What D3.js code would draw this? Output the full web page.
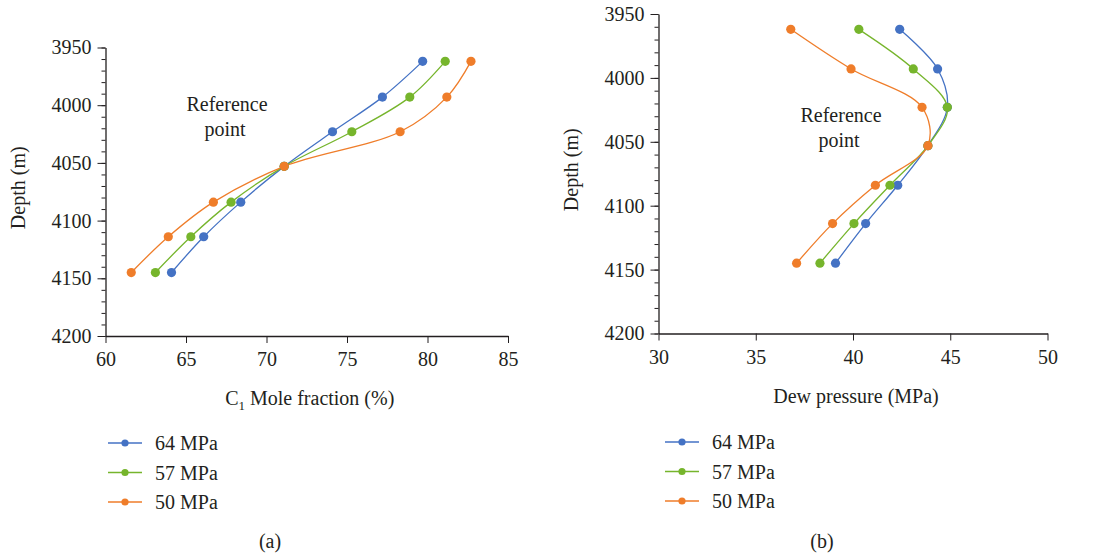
<!DOCTYPE html>
<html lang="en">
<head>
    <meta charset="UTF-8">
    <title>Depth profiles</title>
    <script src="https://d3js.org/d3.v7.min.js"></script>
    <style>
        body { margin: 0; background: #fff; }
        svg text { font-family: "Liberation Serif", "Times New Roman", serif; fill: #231f20; }
    </style>
</head>
<body>
    <svg id="chart" width="1093" height="559"></svg>

    <script>
        // depth of each sample (m)
        const depths = [3962, 3993, 4023, 4053, 4084, 4114, 4145];

        // (a) C1 mole fraction (%)
        const c1_64 = [79.7, 77.2, 74.1, 71.1, 68.4, 66.1, 64.1];
        const c1_57 = [81.1, 78.9, 75.3, 71.1, 67.8, 65.3, 63.1];
        const c1_50 = [82.7, 81.2, 78.3, 71.1, 66.7, 63.9, 61.6];

        // (b) dew pressure (MPa)
        const dew_64 = [42.4, 44.35, 44.85, 43.85, 42.3, 40.65, 39.1];
        const dew_57 = [40.3, 43.1, 44.85, 43.85, 41.9, 40.05, 38.3];
        const dew_50 = [36.8, 39.9, 43.55, 43.85, 41.15, 38.95, 37.1];

        const seriesNames = ["64 MPa", "57 MPa", "50 MPa"];
        const colors = ["#4472c4", "#76b52c", "#ef7d2a"];
        const depthTicks = [3950, 4000, 4050, 4100, 4150, 4200];

        const FONT = '"Liberation Serif", "Times New Roman", serif';
        const svg = d3.select('#chart');

        function styleAxis(a) {
            a.attr('font-family', FONT).attr('font-size', 20);
            a.select('.domain').attr('stroke', '#231f20').attr('stroke-width', 1.3);
            a.selectAll('line').attr('stroke', '#231f20');
            a.selectAll('text').attr('fill', '#231f20');
        }

        function drawPanel(opt) {
            const x = d3.scaleLinear().domain(opt.xDomain).range([opt.left, opt.right]);
            const y = d3.scaleLinear().domain([3950, 4200]).range([opt.top, opt.bottom]);
            const g = svg.append('g').attr('font-family', FONT);

            // minor depth ticks
            g.append('g')
                .attr('transform', `translate(${opt.left},0)`)
                .call(d3.axisLeft(y).tickValues(d3.range(3950, 4201, 10)).tickSize(4).tickFormat(''))
                .call(a => a.select('.domain').remove())
                .call(a => a.selectAll('line').attr('stroke', '#231f20'));

            // depth axis
            g.append('g')
                .attr('transform', `translate(${opt.left},0)`)
                .call(d3.axisLeft(y).tickValues(depthTicks).tickFormat(d3.format('d'))
                    .tickSize(8).tickSizeOuter(0).tickPadding(6))
                .call(styleAxis);

            // x axis
            g.append('g')
                .attr('transform', `translate(0,${opt.bottom})`)
                .call(d3.axisBottom(x).tickValues(opt.xTicks).tickFormat(d3.format('d'))
                    .tickSize(7).tickSizeOuter(0).tickPadding(9))
                .call(styleAxis);

            // axis titles
            const xt = g.append('text')
                .attr('x', (opt.left + opt.right) / 2 + 3)
                .attr('y', opt.bottom + 69)
                .attr('text-anchor', 'middle')
                .attr('font-size', 20);
            if (opt.sub) {
                xt.append('tspan').text('C');
                xt.append('tspan').attr('font-size', 13).attr('dy', 5).text('1');
                xt.append('tspan').attr('dy', -5).text(' Mole fraction (%)');
            } else {
                xt.text(opt.xTitle);
            }

            g.append('text')
                .attr('transform', `translate(${opt.left - 88},${(opt.top + opt.bottom) / 2 - 4}) rotate(-90)`)
                .attr('text-anchor', 'middle')
                .attr('dy', '0.35em')
                .attr('font-size', 20)
                .text('Depth (m)');

            // reference point label
            g.append('text').attr('x', opt.refX).attr('y', opt.refY)
                .attr('text-anchor', 'middle').attr('font-size', 20).text('Reference');
            g.append('text').attr('x', opt.refX - 2).attr('y', opt.refY + 25)
                .attr('text-anchor', 'middle').attr('font-size', 20).text('point');

            // series
            const line = d3.line()
                .x(d => x(d[0]))
                .y(d => y(d[1]))
                .curve(d3.curveCatmullRom.alpha(0.5));

            opt.series.forEach((vals, i) => {
                const pts = vals.map((v, k) => [v, depths[k]]);
                g.append('path')
                    .datum(pts)
                    .attr('d', line)
                    .attr('fill', 'none')
                    .attr('stroke', colors[i])
                    .attr('stroke-width', 1.3);
            });
            opt.series.forEach((vals, i) => {
                g.selectAll(null)
                    .data(vals.map((v, k) => [v, depths[k]]))
                    .enter().append('circle')
                    .attr('cx', d => x(d[0]))
                    .attr('cy', d => y(d[1]))
                    .attr('r', 4.6)
                    .attr('fill', colors[i]);
            });

            // legend
            seriesNames.forEach((name, i) => {
                const ly = opt.legendY + i * 29.5;
                g.append('line')
                    .attr('x1', opt.legendX).attr('x2', opt.legendX + 34)
                    .attr('y1', ly).attr('y2', ly)
                    .attr('stroke', colors[i]).attr('stroke-width', 1.5);
                g.append('circle')
                    .attr('cx', opt.legendX + 17).attr('cy', ly).attr('r', 3.6)
                    .attr('fill', colors[i]);
                g.append('text')
                    .attr('x', opt.legendX + 47).attr('y', ly)
                    .attr('dy', '0.35em')
                    .attr('font-size', 20)
                    .text(name);
            });

            g.append('text')
                .attr('x', opt.capX).attr('y', 541)
                .attr('dy', '0.35em')
                .attr('text-anchor', 'middle')
                .attr('font-size', 20)
                .text(opt.caption);
        }

        drawPanel({
            xDomain: [60, 85], xTicks: [60, 65, 70, 75, 80, 85],
            left: 105.5, right: 508, top: 47.5, bottom: 336,
            series: [c1_64, c1_57, c1_50], sub: true,
            refX: 227, refY: 111,
            legendX: 108, legendY: 443, capX: 270, caption: '(a)'
        });

        drawPanel({
            xDomain: [30, 50], xTicks: [30, 35, 40, 45, 50],
            left: 658.5, right: 1047.5, top: 14, bottom: 333.5,
            series: [dew_64, dew_57, dew_50], xTitle: 'Dew pressure (MPa)',
            refX: 841, refY: 122,
            legendX: 665, legendY: 442, capX: 822, caption: '(b)'
        });
    </script>
</body>
</html>
